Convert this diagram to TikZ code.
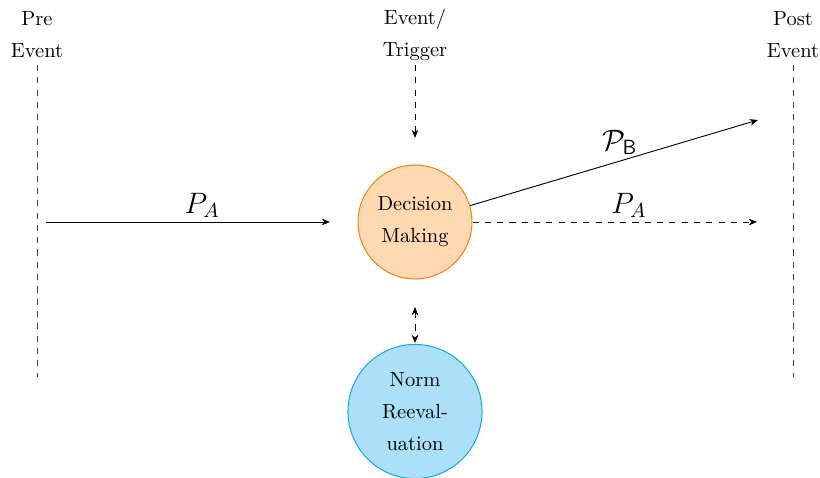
\documentclass[tikz,border=0pt]{standalone}
\usepackage{amssymb}
\usetikzlibrary{arrows.meta}
\definecolor{dmfill}{RGB}{255,217,178}
\definecolor{dmdraw}{RGB}{245,130,20}
\definecolor{nrfill}{RGB}{172,224,248}
\definecolor{nrdraw}{RGB}{20,170,225}
\tikzset{
  lbl/.style={font=\fontsize{10}{15.5}\selectfont, align=center, inner sep=0pt},
  circ/.style={circle, draw, line width=0.5pt, font=\fontsize{10}{15.5}\selectfont, align=center, inner sep=0pt},
  timeline/.style={dashed, line width=0.4pt, draw=black!75},
  arr/.style={-{Stealth[length=4pt,width=3.2pt]}, line width=0.45pt},
  mlbl/.style={font=\Large, inner sep=2pt}
}
\begin{document}
\begin{tikzpicture}[x=0.4878pt, y=-0.4878pt]
\useasboundingbox (0,0) rectangle (820,478);
% top labels
\node[lbl] (pre) at (37,35) {Pre\\Event};
\node[lbl] (evt) at (415,35) {Event/\\Trigger};
\node[lbl] (post) at (793,35) {Post\\Event};
% circles
\node[circ, minimum size=55.6pt, fill=dmfill, draw=dmdraw] (dm) at (415,222) {Decision\\Making};
\node[circ, minimum size=65.4pt, fill=nrfill, draw=nrdraw] (nr) at (415,411.5) {Norm\\Reeval-\\uation};
% coordinates
\coordinate (preEnd) at (37,377);
\coordinate (postTop) at (793,65);
\coordinate (postEnd) at (793,377);
\coordinate (preTop) at (37,65);
\coordinate (evtTop) at (415,65);
\coordinate (evtEnd) at (415,138);
\coordinate (paStart) at (46,222);
\coordinate (paEnd) at (330,222);
\coordinate (pa2End) at (757,222);
\coordinate (pbEnd) at (758,120);
\coordinate (nrTop) at (415,307);
\coordinate (nrBot) at (415,343);
% timelines
\draw[timeline] (preTop) -- (preEnd);
\draw[timeline] (postTop) -- (postEnd);
% arrows
\draw[arr, dashed] (evtTop) -- (evtEnd);
\draw[arr] (paStart) -- node[mlbl, pos=0.55, above] (la) {$P_A$} (paEnd);
\draw[arr, dashed] (dm.east) -- node[mlbl, pos=0.55, above] (la2) {$P_A$} (pa2End);
\draw[arr] (dm) -- node[mlbl, pos=0.52, above, yshift=1pt] (lb) {$\mathcal{P}_{\mathsf{B}}$} (pbEnd);
\draw[{Stealth[length=4pt,width=3.2pt]}-{Stealth[length=4pt,width=3.2pt]}, dashed, line width=0.45pt] (nrTop) -- (nrBot);
\end{tikzpicture}
\end{document}
